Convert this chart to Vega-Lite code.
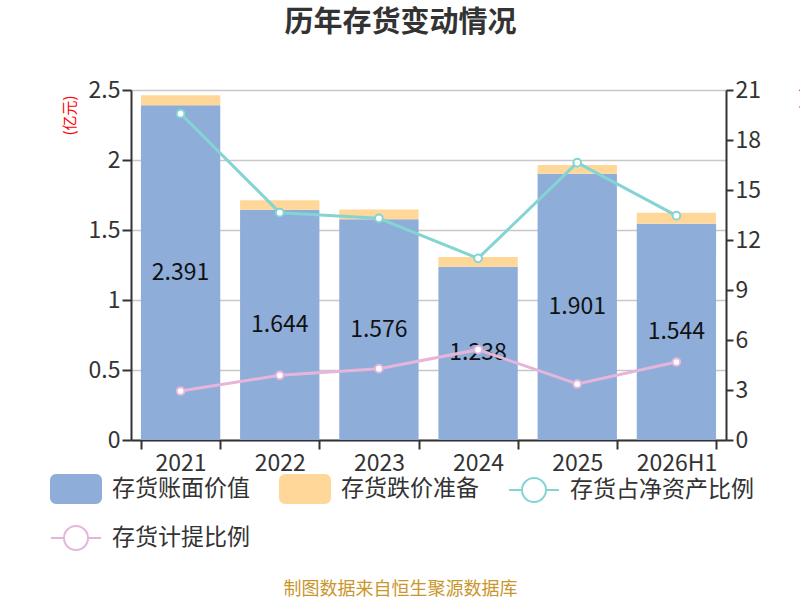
{
  "$schema": "https://vega.github.io/schema/vega-lite/v6.json",
  "width": 595,
  "height": 350,
  "autosize": {"type": "none"},
  "padding": {"left": 131, "top": 90, "right": 74, "bottom": 160},
  "background": "white",
  "title": {
    "text": "历年存货变动情况",
    "fontSize": 29,
    "fontWeight": "bold",
    "color": "#333333",
    "font": "Noto Sans CJK SC",
    "anchor": "middle",
    "frame": "group",
    "dx": -28,
    "offset": 41
  },
  "config": {
    "view": {"stroke": null},
    "font": "Noto Sans CJK SC",
    "axis": {
      "labelFont": "Noto Sans CJK SC",
      "labelFontSize": 23,
      "labelColor": "#333333",
      "domainColor": "#333333",
      "domainWidth": 2,
      "tickColor": "#333333",
      "tickWidth": 2,
      "tickSize": 9
    }
  },
  "data": {
    "values": [
      {"year": "2021", "series": "存货账面价值", "kind": "bar", "value": 2.391},
      {"year": "2022", "series": "存货账面价值", "kind": "bar", "value": 1.644},
      {"year": "2023", "series": "存货账面价值", "kind": "bar", "value": 1.576},
      {"year": "2024", "series": "存货账面价值", "kind": "bar", "value": 1.238},
      {"year": "2025", "series": "存货账面价值", "kind": "bar", "value": 1.901},
      {"year": "2026H1", "series": "存货账面价值", "kind": "bar", "value": 1.544},
      {"year": "2021", "series": "存货跌价准备", "kind": "bar", "value": 0.071},
      {"year": "2022", "series": "存货跌价准备", "kind": "bar", "value": 0.069},
      {"year": "2023", "series": "存货跌价准备", "kind": "bar", "value": 0.071},
      {"year": "2024", "series": "存货跌价准备", "kind": "bar", "value": 0.070},
      {"year": "2025", "series": "存货跌价准备", "kind": "bar", "value": 0.064},
      {"year": "2026H1", "series": "存货跌价准备", "kind": "bar", "value": 0.079},
      {"year": "2021", "series": "存货占净资产比例", "kind": "line", "value": 19.58},
      {"year": "2022", "series": "存货占净资产比例", "kind": "line", "value": 13.64},
      {"year": "2023", "series": "存货占净资产比例", "kind": "line", "value": 13.30},
      {"year": "2024", "series": "存货占净资产比例", "kind": "line", "value": 10.90},
      {"year": "2025", "series": "存货占净资产比例", "kind": "line", "value": 16.64},
      {"year": "2026H1", "series": "存货占净资产比例", "kind": "line", "value": 13.46},
      {"year": "2021", "series": "存货计提比例", "kind": "line", "value": 2.94},
      {"year": "2022", "series": "存货计提比例", "kind": "line", "value": 3.88},
      {"year": "2023", "series": "存货计提比例", "kind": "line", "value": 4.28},
      {"year": "2024", "series": "存货计提比例", "kind": "line", "value": 5.42},
      {"year": "2025", "series": "存货计提比例", "kind": "line", "value": 3.36},
      {"year": "2026H1", "series": "存货计提比例", "kind": "line", "value": 4.68}
    ]
  },
  "encoding": {
    "x": {
      "field": "year",
      "type": "ordinal",
      "sort": null,
      "scale": {"paddingInner": 0.2, "paddingOuter": 0.1},
      "axis": {
        "labelAngle": 0,
        "tickBand": "extent",
        "labelPadding": 3,
        "title": "制图数据来自恒生聚源数据库",
        "titleFont": "Noto Sans CJK SC",
        "titleFontSize": 18,
        "titleFontWeight": "normal",
        "titleColor": "#C9962C",
        "titleX": 269,
        "titleY": 149,
        "titleAlign": "center",
        "titleBaseline": "middle"
      }
    }
  },
  "layer": [
    {
      "transform": [{"filter": "datum.kind === 'bar'"}],
      "mark": {"type": "bar"},
      "encoding": {
        "y": {
          "field": "value",
          "type": "quantitative",
          "aggregate": "sum",
          "stack": "zero",
          "scale": {"domain": [0, 2.5], "nice": false},
          "axis": {
            "values": [0, 0.5, 1, 1.5, 2, 2.5],
            "format": "~f",
            "grid": true,
            "gridColor": "#c8c8c8",
            "gridWidth": 1.5,
            "title": "(亿元)",
            "titleColor": "red",
            "titleFontSize": 15,
            "titleFontWeight": "normal",
            "titleAngle": -90,
            "titleX": -62,
            "titleY": 25,
            "titleAlign": "center",
            "titleBaseline": "middle"
          }
        },
        "order": {"field": "series", "type": "ordinal", "sort": "ascending"},
        "color": {
          "field": "series",
          "type": "nominal",
          "scale": {
            "domain": ["存货账面价值", "存货跌价准备", "存货占净资产比例", "存货计提比例"],
            "range": ["#8EADD9", "#FFD899", "#84D4D4", "#E6B5DA"]
          },
          "legend": {
            "orient": "none",
            "legendX": -81,
            "legendY": 373,
            "direction": "horizontal",
            "columns": 3,
            "title": null,
            "padding": 0,
            "labelFont": "Noto Sans CJK SC",
            "labelFontSize": 23,
            "labelColor": "#333333",
            "labelLimit": 400,
            "labelOffset": 10,
            "symbolSize": 2500,
            "columnPadding": 26,
            "rowPadding": 5,
            "encode": {
              "symbols": {
                "update": {
                  "shape": {"signal": "datum.value === '存货账面价值' || datum.value === '存货跌价准备' ? 'M-0.8,-0.56H0.8A0.2,0.2 0 0 1 1,-0.36V0.36A0.2,0.2 0 0 1 0.8,0.56H-0.8A0.2,0.2 0 0 1 -1,0.36V-0.36A0.2,0.2 0 0 1 -0.8,-0.56Z' : 'M-1,0H-0.48M0.48,0H1M0.48,0A0.48,0.48 0 1 1 -0.48,0A0.48,0.48 0 1 1 0.48,0'"},
                  "fill": {"signal": "datum.value === '存货账面价值' ? '#8EADD9' : datum.value === '存货跌价准备' ? '#FFD899' : '#ffffff'"},
                  "fillOpacity": {"signal": "datum.value === '存货账面价值' || datum.value === '存货跌价准备' ? 1 : 0"},
                  "stroke": {"signal": "datum.value === '存货占净资产比例' ? '#84D4D4' : datum.value === '存货计提比例' ? '#E6B5DA' : 'transparent'"},
                  "strokeWidth": {"value": 2},
                  "opacity": {"value": 1},
                  "strokeOpacity": {"value": 1}
                }
              }
            }
          }
        }
      }
    },
    {
      "transform": [{"filter": "datum.series === '存货账面价值'"}],
      "mark": {"type": "text", "fontSize": 23, "color": "#111111", "baseline": "middle", "align": "center", "font": "Noto Sans CJK SC"},
      "encoding": {
        "y": {
          "field": "value",
          "type": "quantitative",
          "scale": {"domain": [0, 5], "nice": false},
          "axis": null
        },
        "text": {"field": "value", "type": "quantitative", "format": ".3f"}
      }
    },
    {
      "transform": [{"filter": "datum.kind === 'line'"}],
      "mark": {
        "type": "line",
        "strokeWidth": 3,
        "point": {"filled": false, "fill": "white", "size": 60, "strokeWidth": 2}
      },
      "encoding": {
        "y": {
          "field": "value",
          "type": "quantitative",
          "scale": {"domain": [0, 21], "nice": false},
          "axis": {
            "orient": "right",
            "values": [0, 3, 6, 9, 12, 15, 18, 21],
            "grid": false,
            "tickSize": 7,
            "title": "(%)",
            "titleColor": "red",
            "titleFontSize": 15,
            "titleFontWeight": "normal",
            "titleAngle": 90,
            "titleX": 80,
            "titleY": 8,
            "titleAlign": "center",
            "titleBaseline": "middle"
          }
        },
        "color": {
          "field": "series",
          "type": "nominal",
          "scale": {
            "domain": ["存货账面价值", "存货跌价准备", "存货占净资产比例", "存货计提比例"],
            "range": ["#8EADD9", "#FFD899", "#84D4D4", "#E6B5DA"]
          }
        }
      }
    }
  ],
  "resolve": {"scale": {"y": "independent"}}
}
